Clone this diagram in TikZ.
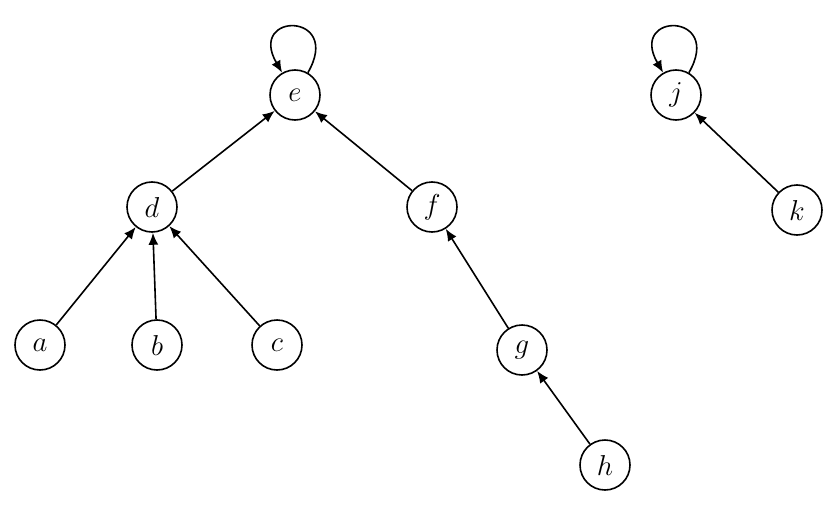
\documentclass[tikz,border=0pt]{standalone}
\usetikzlibrary{arrows.meta}
\tikzset{
  vert/.style={draw, circle, line width=0.8pt, minimum size=25pt, inner sep=0pt, font=\Large},
  arc/.style={-{Latex[length=6pt,width=5pt]}, line width=0.8pt},
}
\begin{document}
\begin{tikzpicture}[x=0.5pt, y=-0.5pt]
\useasboundingbox (0,0) rectangle (834,524);
% vertices
\node[vert] (e) at (295,95) {$e$};
\node[vert] (d) at (152,207) {$d$};
\node[vert] (f) at (432,207) {$f$};
\node[vert] (a) at (40,345) {$a$};
\node[vert] (b) at (157,345) {$b$};
\node[vert] (c) at (277,345) {$c$};
\node[vert] (g) at (522,350) {$g$};
\node[vert] (h) at (605,465) {$h$};
\node[vert] (j) at (676,95) {$j$};
\node[vert] (k) at (797,210) {$k$};
% arcs
\draw[arc] (d) -- (e);
\draw[arc] (f) -- (e);
\draw[arc] (a) -- (d);
\draw[arc] (b) -- (d);
\draw[arc] (c) -- (d);
\draw[arc] (g) -- (f);
\draw[arc] (h) -- (g);
\draw[arc] (k) -- (j);
% loops
\draw[arc] (e) to[out=60, in=120, looseness=7] (e);
\draw[arc] (j) to[out=60, in=120, looseness=7] (j);
\end{tikzpicture}
\end{document}
